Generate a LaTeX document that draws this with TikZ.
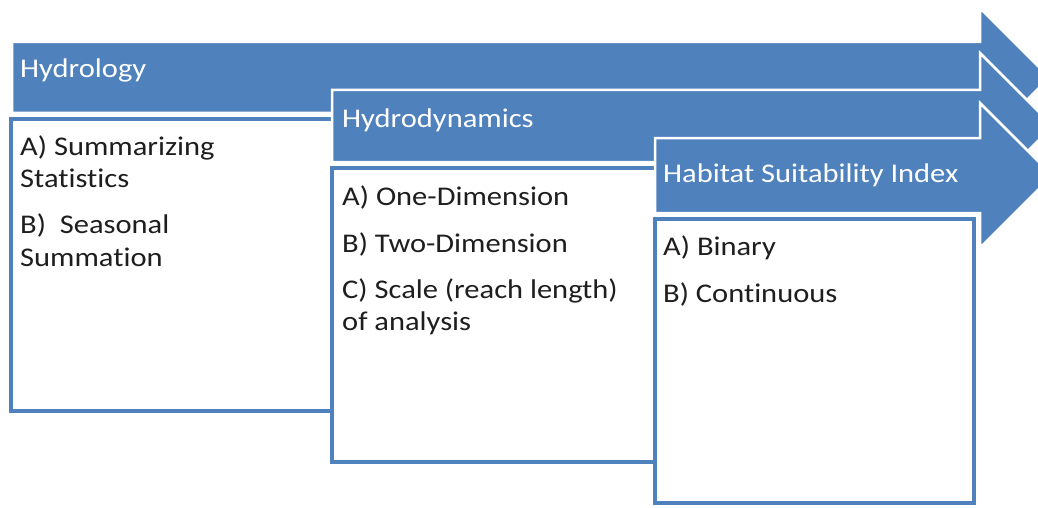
\documentclass[tikz,border=0pt]{standalone}
\usepackage{fontspec}
\setmainfont{Carlito}[FakeStretch=1.13,Ligatures=NoCommon]
\definecolor{stageblue}{HTML}{4F81BD}
\definecolor{inktext}{HTML}{1E1E1E}
\begin{document}
\begin{tikzpicture}[x=1pt,y=-1pt,
  band/.style={fill=stageblue,draw=white,line width=2.5pt,line join=miter},
  halo/.style={draw=white,line width=11pt},
  listbox/.style={fill=white,draw=stageblue,line width=3.5pt},
  title/.style={anchor=base west,inner sep=0pt,text=white,font=\fontsize{27}{32}\selectfont},
  item/.style={anchor=base west,inner sep=0pt,text=inktext,font=\fontsize{27}{32}\selectfont}]
\useasboundingbox (0,0) rectangle (1038,508);
\clip (0,0) rectangle (1038,508);
\fill[white] (0,0) rectangle (1038,508);

% stage 1: hydrology
\draw[band] (12,42) -- (980,42) -- (980,8) -- (1049.5,77.5) -- (980,147) -- (980,113) -- (12,113) -- cycle;
\draw[halo] (5,119) -- (560,119);
\draw[listbox] (11,119) rectangle (560,411);
\node[title] (hydro) at (20,78) {Hydrology};
\node[item] (h1) at (20,155) {A) Summarizing};
\node[item] (h1b) at (20,187) {Statistics};
\node[item] (h2) at (20,233) {B)\ \ Seasonal};
\node[item] (h2b) at (20,266) {Summation};

% stage 2: hydrodynamics
\draw[band] (332,90) -- (980,90) -- (980,53) -- (1053,126) -- (980,199) -- (980,162) -- (332,162) -- cycle;
\draw[halo] (326,168) -- (880,168);
\draw[listbox] (332,168) rectangle (880,462);
\node[title] (dyn) at (342,128) {Hydrodynamics};
\node[item] (d1) at (342,205) {A) One-Dimension};
\node[item] (d2) at (342,252) {B) Two-Dimension};
\node[item] (d3) at (342,298) {C) Scale (reach length)};
\node[item] (d3b) at (342,330) {of analysis};

% stage 3: habitat suitability
\draw[band] (655,138) -- (980,138) -- (980,103) -- (1052.5,175.5) -- (980,248) -- (980,213) -- (655,213) -- cycle;
\draw[halo] (649,219) -- (980,219);
\draw[listbox] (655,219) rectangle (974,503);
\node[title] (hsi) at (663,182) {Habitat Suitability Index};
\node[item] (s1) at (663,255) {A) Binary};
\node[item] (s2) at (663,302) {B) Continuous};
\end{tikzpicture}
\end{document}
